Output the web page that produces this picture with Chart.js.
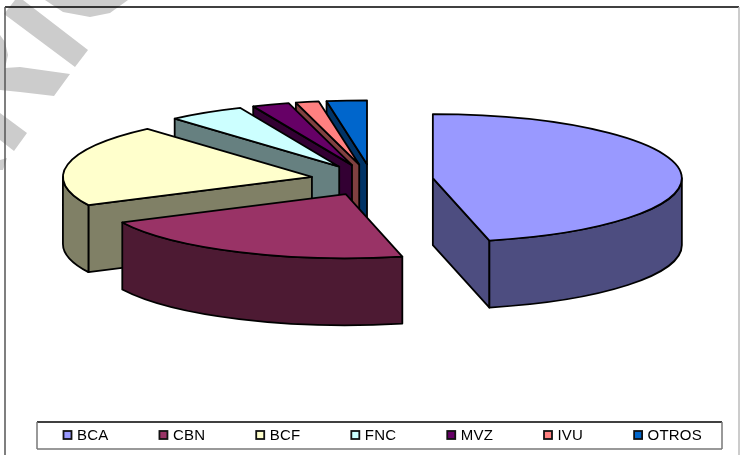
<!DOCTYPE html>
<html>
<head>
<meta charset="utf-8">
<style>
  html, body { margin: 0; padding: 0; background: #fff; overflow: hidden; }
  canvas { display: block; }
</style>
<script src="https://cdn.jsdelivr.net/npm/chart.js@4"></script>
</head>
<body>
<canvas id="pieChart" width="741" height="455"></canvas>
<script>
const categories = ["BCA", "CBN", "BCF", "FNC", "MVZ", "IVU", "OTROS"];
const shares = [46.4, 21.4, 20.8, 5.0, 2.4, 1.5, 2.6];
const topColors = ["#9999FF", "#993366", "#FFFFCC", "#CCFFFF", "#660066", "#FF8080", "#0066CC"];
const sideColors = ["#4D4D80", "#4D1A33", "#808066", "#668080", "#330033", "#804040", "#003366"];

// Look of the fake 3D pie
const squash = 64 / 249;
const depth = 67;
const explode = 0.246;
const edge = 1.8;

// Grey letters of the watermark behind the chart, cut off by the page corner
const watermark = [
  [[45, 0], [63, 12], [90, 17], [110, 13], [128, 0]],
  [[23, 0], [88, 50], [75, 67], [4, 14], [15, 0]],
  [[0, 35], [5, 42], [8, 55], [5, 68], [20, 67], [70, 74], [54, 96], [20, 92], [0, 90]],
  [[0, 113], [27, 133], [14, 151], [0, 140]],
  [[0, 160], [7, 158], [3, 170], [0, 170]],
];

function line(ctx, color, x1, y1, x2, y2) {
  ctx.strokeStyle = color;
  ctx.lineWidth = 1.5;
  ctx.beginPath();
  ctx.moveTo(x1, y1);
  ctx.lineTo(x2, y2);
  ctx.stroke();
}

const pageBackground = {
  id: "pageBackground",
  beforeDraw(chart) {
    const ctx = chart.ctx;
    ctx.save();
    ctx.fillStyle = "#CCCCCC";
    watermark.forEach((shape) => {
      ctx.beginPath();
      shape.forEach(([x, y]) => ctx.lineTo(x, y));
      ctx.closePath();
      ctx.fill();
    });
    line(ctx, "#000", 5, 7, 739, 7);
    line(ctx, "#555", 5, 7, 5, 455);
    line(ctx, "#BBB", 739, 7, 739, 455);
    ctx.restore();
  },
};

const pie3d = {
  id: "pie3d",
  beforeDatasetsDraw(chart) {
    const ctx = chart.ctx;
    const arcs = chart.getDatasetMeta(0).data;
    ctx.save();
    ctx.lineJoin = "round";
    ctx.lineWidth = edge;
    ctx.strokeStyle = "#000";

    // back slices first
    for (let i = arcs.length - 1; i >= 0; i--) {
      const arc = arcs[i];
      const rx = arc.outerRadius;
      const ry = rx * squash;
      const a0 = arc.startAngle;
      const a1 = arc.endAngle;
      const mid = (a0 + a1) / 2;
      const ax = arc.x + Math.cos(mid) * explode * rx;
      const ay = arc.y + Math.sin(mid) * explode * ry;

      const wall = (angle) => {
        const px = ax + Math.cos(angle) * rx;
        const py = ay + Math.sin(angle) * ry;
        ctx.beginPath();
        ctx.moveTo(ax, ay);
        ctx.lineTo(px, py);
        ctx.lineTo(px, py + depth);
        ctx.lineTo(ax, ay + depth);
        ctx.closePath();
        ctx.fill();
        ctx.stroke();
      };

      ctx.fillStyle = sideColors[i];
      if (Math.sin(a0 - Math.PI / 2) > 0.001) wall(a0);
      if (Math.sin(a1 + Math.PI / 2) > 0.001) wall(a1);

      const lo = Math.max(a0, 0);
      const hi = Math.min(a1, Math.PI);
      if (hi > lo) {
        ctx.beginPath();
        ctx.ellipse(ax, ay, rx, ry, 0, lo, hi);
        ctx.ellipse(ax, ay + depth, rx, ry, 0, hi, lo, true);
        ctx.closePath();
        ctx.fill();
        ctx.stroke();
      }

      // top face comes from the library's arc element, flattened
      ctx.save();
      ctx.translate(ax, ay);
      ctx.scale(1, squash);
      ctx.translate(-arc.x, -arc.y);
      arc.draw(ctx);
      ctx.restore();

      ctx.lineWidth = edge;
      ctx.strokeStyle = "#000";
      ctx.beginPath();
      ctx.moveTo(ax, ay);
      ctx.ellipse(ax, ay, rx, ry, 0, a0, a1);
      ctx.closePath();
      ctx.stroke();
    }
    ctx.restore();
    return false;
  },
};

const boxedLegend = {
  id: "boxedLegend",
  afterDraw(chart) {
    const ctx = chart.ctx;
    ctx.save();
    line(ctx, "#000", 37, 422, 722, 422);
    line(ctx, "#777", 37, 422, 37, 449);
    line(ctx, "#777", 722, 422, 722, 449);
    line(ctx, "#777", 37, 449, 722, 449);

    ctx.font = "15px 'Liberation Sans', Arial, sans-serif";
    ctx.letterSpacing = "0.2px";
    ctx.textBaseline = "alphabetic";
    let x = 63.5;
    categories.forEach((name, i) => {
      ctx.fillStyle = topColors[i];
      ctx.fillRect(x, 431, 8, 8);
      ctx.strokeStyle = "#111";
      ctx.lineWidth = 1.8;
      ctx.strokeRect(x, 431, 8, 8);
      ctx.fillStyle = "#000";
      ctx.fillText(name, x + 13.5, 440);
      x += 13.5 + ctx.measureText(name).width + 51;
    });
    ctx.restore();
  },
};

new Chart(document.getElementById("pieChart"), {
  type: "pie",
  data: {
    labels: categories,
    datasets: [
      {
        data: shares,
        backgroundColor: topColors,
        borderWidth: 0,
      },
    ],
  },
  options: {
    responsive: false,
    animation: false,
    radius: 249,
    layout: { padding: { left: 3, bottom: 95 } },
    plugins: {
      legend: { display: false },
      tooltip: { enabled: false },
    },
  },
  plugins: [pageBackground, pie3d, boxedLegend],
});
</script>
</body>
</html>
